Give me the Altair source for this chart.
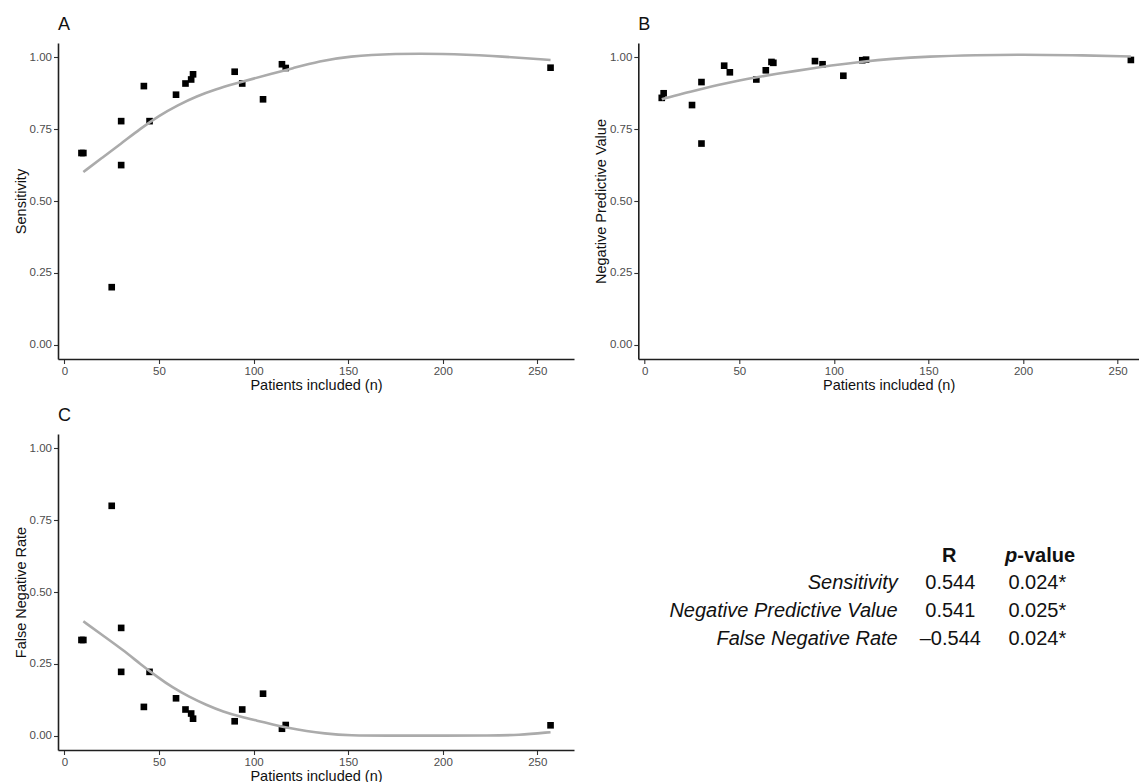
import altair as alt
import pandas as pd

# ---------------- data ----------------
patients = [9, 10, 25, 30, 30, 42, 45, 59, 64, 67, 68, 90, 94, 105, 115, 117, 257]
sensitivity = [0.667, 0.667, 0.200, 0.778, 0.625, 0.900, 0.778, 0.870, 0.909, 0.923,
               0.941, 0.950, 0.909, 0.854, 0.976, 0.963, 0.964]
npv = [0.859, 0.875, 0.834, 0.914, 0.700, 0.971, 0.948, 0.923, 0.955, 0.984,
       0.981, 0.987, 0.976, 0.936, 0.990, 0.992, 0.991]
fnr = [0.333, 0.333, 0.800, 0.222, 0.375, 0.100, 0.222, 0.130, 0.091, 0.077,
       0.059, 0.050, 0.091, 0.146, 0.024, 0.037, 0.036]

# smoothed (loess) curves
sens_fit_x = [10, 20, 30, 40, 50, 60, 70, 80, 90, 100, 110, 120, 135, 150, 175, 200, 225, 257]
sens_fit_y = [0.601, 0.651, 0.700, 0.751, 0.797, 0.834, 0.865, 0.889, 0.908, 0.926,
              0.944, 0.961, 0.987, 1.004, 1.013, 1.013, 1.006, 0.991]
npv_fit_x = [9, 20, 30, 40, 50, 60, 70, 80, 90, 100, 115, 130, 150, 175, 200, 225, 257]
npv_fit_y = [0.854, 0.874, 0.890, 0.906, 0.920, 0.932, 0.943, 0.953, 0.963, 0.973,
             0.985, 0.995, 1.003, 1.008, 1.010, 1.008, 1.003]
fnr_fit_x = [10, 20, 31, 40, 49, 57, 66, 75, 84, 93, 102, 110, 119, 128, 137, 150,
             175, 200, 225, 240, 257]
fnr_fit_y = [0.398, 0.350, 0.298, 0.250, 0.205, 0.168, 0.135, 0.107, 0.083, 0.066,
             0.052, 0.039, 0.026, 0.016, 0.008, 0.000, 0.000, 0.000, 0.000, 0.002, 0.012]

x_ticks = [0, 50, 100, 150, 200, 250]
y_ticks = [0.0, 0.25, 0.50, 0.75, 1.00]

table_metrics = ["Sensitivity", "Negative Predictive Value", "False Negative Rate"]
table_r = ["0.544", "0.541", "\u20130.544"]
table_p = ["0.024*", "0.025*", "0.024*"]

FONT = "Liberation Sans"
PANEL_H = 316


def panel(xs, ys, fx, fy, ytitle, letter, xmax, width):
    pts = pd.DataFrame({"n": xs, "v": ys})
    fit = pd.DataFrame({"n": fx, "v": fy})
    xenc = alt.X("n:Q",
                 scale=alt.Scale(domain=[-3.4, xmax], nice=False, zero=False),
                 axis=alt.Axis(values=x_ticks, title="Patients included (n)"))
    yenc = alt.Y("v:Q",
                 scale=alt.Scale(domain=[-0.05, 1.05], nice=False, zero=False),
                 axis=alt.Axis(values=y_ticks, format=".2f", title=ytitle))
    p = alt.Chart(pts).mark_square(size=44, color="black", opacity=1).encode(x=xenc, y=yenc)
    l = alt.Chart(fit).mark_line(color="#ababab", strokeWidth=2.6,
                                 interpolate="basis").encode(x=xenc, y=yenc)
    return alt.layer(p, l).properties(
        width=width, height=PANEL_H,
        title=alt.TitleParams(letter, anchor="start", frame="group", fontSize=18,
                              fontWeight="normal", color="#111111", font=FONT, offset=9),
    )


pA = panel(patients, sensitivity, sens_fit_x, sens_fit_y, "Sensitivity", "A", 269.4, 516)
pB = panel(patients, npv, npv_fit_x, npv_fit_y, "Negative Predictive Value", "B", 261.3, 500.7)
pC = panel(patients, fnr, fnr_fit_x, fnr_fit_y, "False Negative Rate", "C", 269.4, 516)

# ---------------- correlation table ----------------
tab = pd.DataFrame({"row": [1, 2, 3], "metric": table_metrics, "r": table_r, "p": table_p})
hdr = pd.DataFrame({"row": [0], "R": ["R"], "pp": ["p"], "rest": ["-value"]})
yrow = alt.Y("row:Q", scale=alt.Scale(domain=[0, 3], range=[121.7, 204.7]), axis=None)

t_metric = alt.Chart(tab).mark_text(align="right", baseline="middle", fontSize=20,
                                    fontStyle="italic", font=FONT, color="#111111").encode(
    x=alt.value(259.4), y=yrow, text="metric:N")
t_r = alt.Chart(tab).mark_text(align="center", baseline="middle", fontSize=20,
                               font=FONT, color="#111111").encode(
    x=alt.value(312), y=yrow, text="r:N")
t_p = alt.Chart(tab).mark_text(align="center", baseline="middle", fontSize=20,
                               font=FONT, color="#111111").encode(
    x=alt.value(399), y=yrow, text="p:N")
h_r = alt.Chart(hdr).mark_text(align="center", baseline="middle", fontSize=20,
                               fontWeight="bold", font=FONT, color="#111111").encode(
    x=alt.value(311), y=yrow, text="R:N")
h_p = alt.Chart(hdr).mark_text(align="right", baseline="middle", fontSize=20,
                               fontWeight="bold", fontStyle="italic", font=FONT,
                               color="#111111").encode(
    x=alt.value(379), y=yrow, text="pp:N")
h_rest = alt.Chart(hdr).mark_text(align="left", baseline="middle", fontSize=20,
                                  fontWeight="bold", font=FONT, color="#111111").encode(
    x=alt.value(379), y=yrow, text="rest:N")

pT = alt.layer(t_metric, t_r, t_p, h_r, h_p, h_rest).properties(width=500.7, height=PANEL_H)

chart = alt.concat(
    pA, pB, pC, pT, columns=2, spacing={"row": 75, "column": 64.3}, bounds="flush"
).properties(
    padding={"left": 5, "top": 8, "right": 0, "bottom": 0}
).configure(font=FONT, background="white").configure_view(stroke=None).configure_axis(
    grid=False,
    domainColor="#1f1f1f", domainWidth=1.6,
    tickColor="#333333", tickWidth=1.1, tickSize=4.5,
    labelColor="#4d4d4d", labelFontSize=11.5, labelFont=FONT, labelPadding=2,
    titleColor="#111111", titleFontSize=14.5, titleFont=FONT, titleFontWeight="normal",
    titlePadding=1,
)

chart.save("out.html", embed_options={"renderer": "svg", "actions": False})
